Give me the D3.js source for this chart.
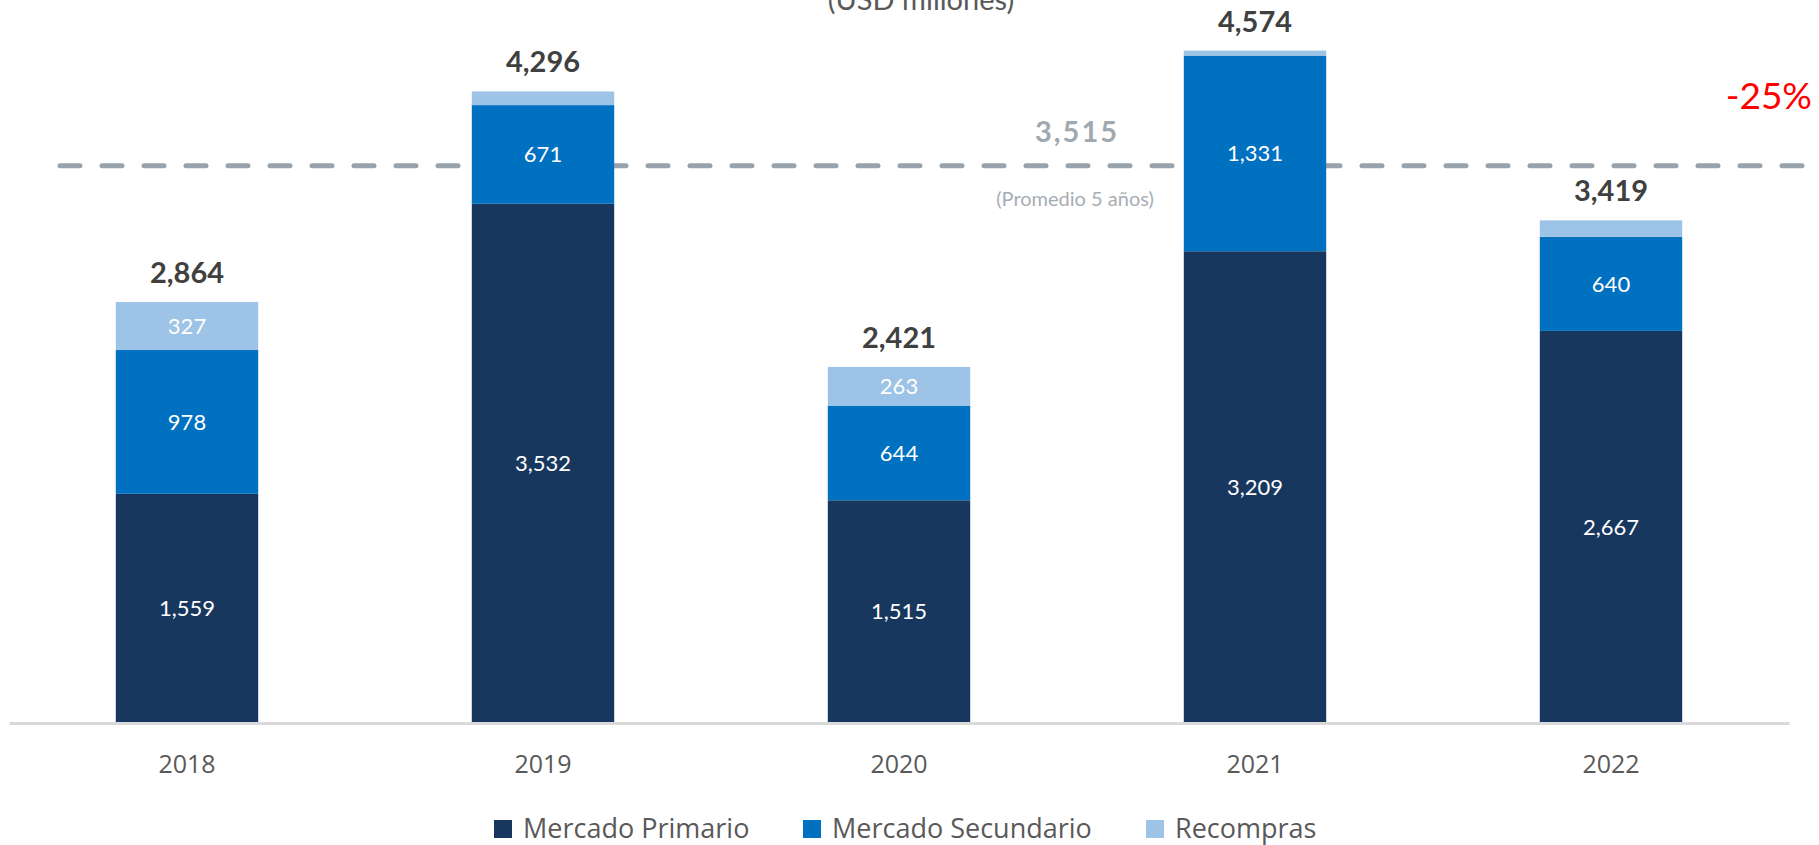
<!DOCTYPE html>
<html>
<head>
<meta charset="utf-8">
<script src="https://cdn.jsdelivr.net/npm/d3@7"></script>
<style>
  body { margin: 0; background: #fff; }
  svg { display: block; font-family: "Lato", "Open Sans", sans-serif; }
</style>
</head>
<body>
<div id="chart"></div>
<script>
// data (USD millones)
const years = ["2018", "2019", "2020", "2021", "2022"];
const primario = [1559, 3532, 1515, 3209, 2667];
const secundario = [978, 671, 644, 1331, 640];
const recompras = [327, 93, 263, 34, 112];
const totals = [2864, 4296, 2421, 4574, 3419];
const seriesNames = ["Mercado Primario", "Mercado Secundario", "Recompras"];
const seriesColors = ["#17375E", "#0070C0", "#9DC3E6"];
const avgValue = 3515;
const avgLineLevel = 3790; // level where the dashed line is drawn in the picture
const changeLabel = "-25%";

const width = 1819, height = 845;

const svg = d3.select("#chart").append("svg")
    .attr("width", width)
    .attr("height", height);

const x = d3.scaleBand().domain(years).range([9, 1789]).paddingInner(0.6).paddingOuter(0.3);
const y = d3.scaleLinear().domain([0, 4918]).range([723, 0]);

const rows = years.map((yr, i) => ({ year: yr, p: primario[i], s: secundario[i], r: recompras[i], total: totals[i] }));
const stack = d3.stack().keys(["p", "s", "r"])(rows);

// title, cut at the top edge like the source slide
svg.append("text")
    .attr("x", 921).attr("y", 10)
    .attr("text-anchor", "middle")
    .attr("font-size", 29)
    .attr("fill", "#595959")
    .text("(USD millones)");

// average dashed line
svg.append("line")
    .attr("x1", 60).attr("x2", 1806)
    .attr("y1", y(avgLineLevel)).attr("y2", y(avgLineLevel))
    .attr("stroke", "#98A2AC")
    .attr("stroke-width", 5)
    .attr("stroke-linecap", "round")
    .attr("stroke-dasharray", "20 22");

svg.append("text")
    .attr("x", 1077).attr("y", y(avgLineLevel) - 24)
    .attr("text-anchor", "middle")
    .attr("font-size", 29).attr("font-weight", "bold")
    .attr("letter-spacing", 2)
    .attr("fill", "#A0A8B0")
    .text(d3.format(",")(avgValue));

svg.append("text")
    .attr("x", 1075).attr("y", y(avgLineLevel) + 40)
    .attr("text-anchor", "middle")
    .attr("font-size", 20)
    .attr("fill", "#A6ADB4")
    .text("(Promedio 5 años)");

svg.append("text")
    .attr("x", 1812).attr("y", 109)
    .attr("text-anchor", "end")
    .attr("font-size", 37)
    .attr("fill", "#FF0000")
    .text(changeLabel);

// stacked bars
const layers = svg.selectAll("g.layer")
    .data(stack)
    .join("g")
    .attr("class", "layer")
    .attr("fill", (d, i) => seriesColors[i]);

layers.selectAll("rect")
    .data(d => d)
    .join("rect")
    .attr("x", d => x(d.data.year))
    .attr("width", x.bandwidth())
    .attr("y", d => y(d[1]))
    .attr("height", d => y(d[0]) - y(d[1]));

// segment labels (small recompras segments unlabeled)
layers.selectAll("text")
    .data(d => d.filter(s => s[1] - s[0] > 150))
    .join("text")
    .attr("x", d => x(d.data.year) + x.bandwidth() / 2)
    .attr("y", d => (y(d[0]) + y(d[1])) / 2)
    .attr("dy", "0.35em")
    .attr("text-anchor", "middle")
    .attr("font-size", 22)
    .attr("fill", "#fff")
    .text(d => d3.format(",")(d[1] - d[0]));

// totals
svg.selectAll("text.total")
    .data(rows)
    .join("text")
    .attr("class", "total")
    .attr("x", d => x(d.year) + x.bandwidth() / 2)
    .attr("y", d => y(d.total) - 19)
    .attr("text-anchor", "middle")
    .attr("font-size", 29).attr("font-weight", "bold")
    .attr("fill", "#404040")
    .text(d => d3.format(",")(d.total));

// x axis
const xAxis = svg.append("g")
    .attr("transform", "translate(0,723)")
    .call(d3.axisBottom(x).tickSize(0).tickSizeOuter(0).tickPadding(32));
xAxis.select(".domain").attr("stroke", "#D9D9D9").attr("stroke-width", 3);
xAxis.selectAll("text").attr("font-size", 25).attr("fill", "#595959").attr("font-family", "'Open Sans', sans-serif");

// legend
const legendX = [494, 803, 1146];
const legend = svg.selectAll("g.legend")
    .data(seriesNames)
    .join("g")
    .attr("class", "legend")
    .attr("transform", (d, i) => `translate(${legendX[i]},829)`);
legend.append("rect")
    .attr("x", 0).attr("y", -9)
    .attr("width", 18).attr("height", 18)
    .attr("fill", (d, i) => seriesColors[i]);
legend.append("text")
    .attr("x", 29).attr("dy", "0.35em")
    .attr("font-size", 27)
    .attr("font-family", "'Open Sans', sans-serif")
    .attr("fill", "#595959")
    .text(d => d);
</script>
</body>
</html>
